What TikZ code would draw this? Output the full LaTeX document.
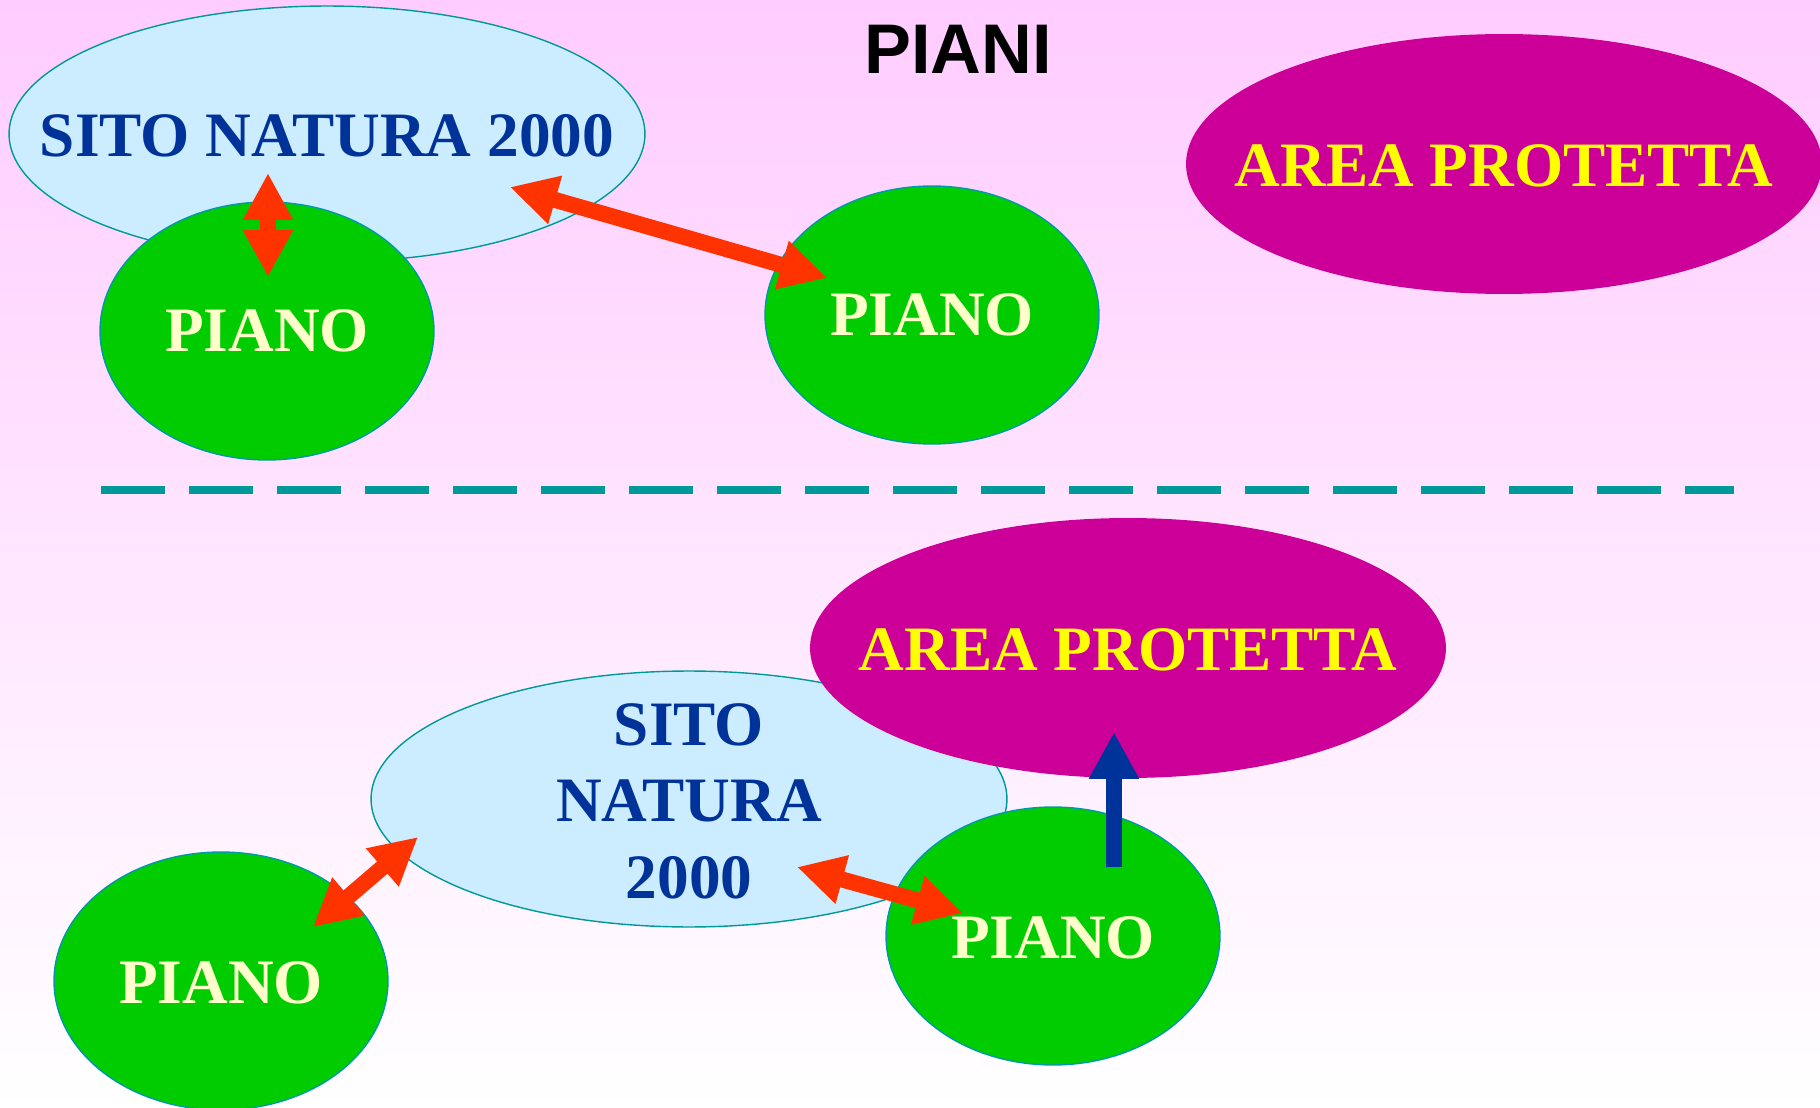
\documentclass[tikz,border=0pt]{standalone}
\usepackage{fontspec}
\setmainfont{Liberation Serif}
\newfontfamily\titlefont{Liberation Sans}
\usetikzlibrary{shapes.geometric,arrows.meta}
\definecolor{sitofill}{HTML}{CCECFF}
\definecolor{sitoline}{HTML}{009999}
\definecolor{pianofill}{HTML}{00CC00}
\definecolor{pianoline}{HTML}{0099AA}
\definecolor{areafill}{HTML}{CC0099}
\definecolor{sitotext}{HTML}{003399}
\definecolor{pianotext}{HTML}{FFFFCC}
\definecolor{areatext}{HTML}{FFFF00}
\definecolor{linkred}{HTML}{FF3300}
\definecolor{bgpink}{HTML}{FFCCFF}

\begin{document}
\begin{tikzpicture}[x=0.02cm,y=-0.02cm,
  sito/.style={ellipse,draw=sitoline,line width=0.8pt,fill=sitofill,
    minimum width=12.72cm,minimum height=5.12cm,inner sep=0pt},
  piano/.style={ellipse,draw=pianoline,line width=0.8pt,fill=pianofill,
    minimum width=6.68cm,minimum height=5.16cm,inner sep=0pt},
  area/.style={ellipse,fill=areafill,
    minimum width=12.72cm,minimum height=5.2cm,inner sep=0pt},
  label font/.style={font=\fontsize{36}{43.6}\selectfont\bfseries,inner sep=0pt},
  sitolabel/.style={label font,text=sitotext,align=center},
  pianolabel/.style={label font,text=pianotext},
  arealabel/.style={label font,text=areatext},
  link/.style={line width=0.32cm,linkred,{Triangle[length=0.94cm,width=0.94cm]}-{Triangle[length=0.94cm,width=0.94cm]}},
  uplink/.style={line width=0.32cm,sitotext,-{Triangle[length=0.94cm,width=0.94cm]}}]
  \shade[top color=bgpink,bottom color=white] (0,0) rectangle (1820,1108);
  \useasboundingbox (0,0) rectangle (1820,1108);

  \node[font=\titlefont\fontsize{40}{48}\selectfont\bfseries,inner sep=0pt] (title) at (958,49) {PIANI};

  \node[sito] (sitoA) at (327,134) {};
  \node[piano] (pianoA) at (267,331) {};
  \node[piano] (pianoB) at (932,315) {};
  \node[area] (areaA) at (1504,164) {};
  \node[sitolabel] (sitoAtext) at (327,136) {SITO NATURA 2000};
  \node[pianolabel] (pianoAtext) at (267,331) {PIANO};
  \node[pianolabel] (pianoBtext) at (932,315) {PIANO};
  \node[arealabel] (areaAtext) at (1504,166) {AREA PROTETTA};

  \draw[sitoline,line width=0.16cm,dash pattern=on 1.28cm off 0.48cm] (101,490) -- (1734,490);

  \node[sito] (sitoB) at (689,799) {};
  \node[area] (areaB) at (1128,648) {};
  \node[piano] (pianoC) at (221,981) {};
  \node[piano] (pianoD) at (1053,936) {};
  \node[sitolabel] (sitoBtext) at (689,801) {SITO\\NATURA\\2000};
  \node[arealabel] (areaBtext) at (1128,650) {AREA PROTETTA};
  \node[pianolabel] (pianoCtext) at (221,983) {PIANO};
  \node[pianolabel] (pianoDtext) at (1053,938) {PIANO};

  \coordinate (a1) at (268,173);
  \coordinate (a2) at (268,277);
  \coordinate (b1) at (510,187);
  \coordinate (b2) at (827,278);
  \coordinate (c1) at (418,837);
  \coordinate (c2) at (313,927);
  \coordinate (d1) at (797,867);
  \coordinate (d2) at (963,913);
  \coordinate (e1) at (1114,867);
  \coordinate (e2) at (1114,732);
  \draw[link] (a1) -- (a2);
  \draw[link] (b1) -- (b2);
  \draw[link] (c1) -- (c2);
  \draw[link] (d1) -- (d2);
  \draw[uplink] (e1) -- (e2);
\end{tikzpicture}
\end{document}
